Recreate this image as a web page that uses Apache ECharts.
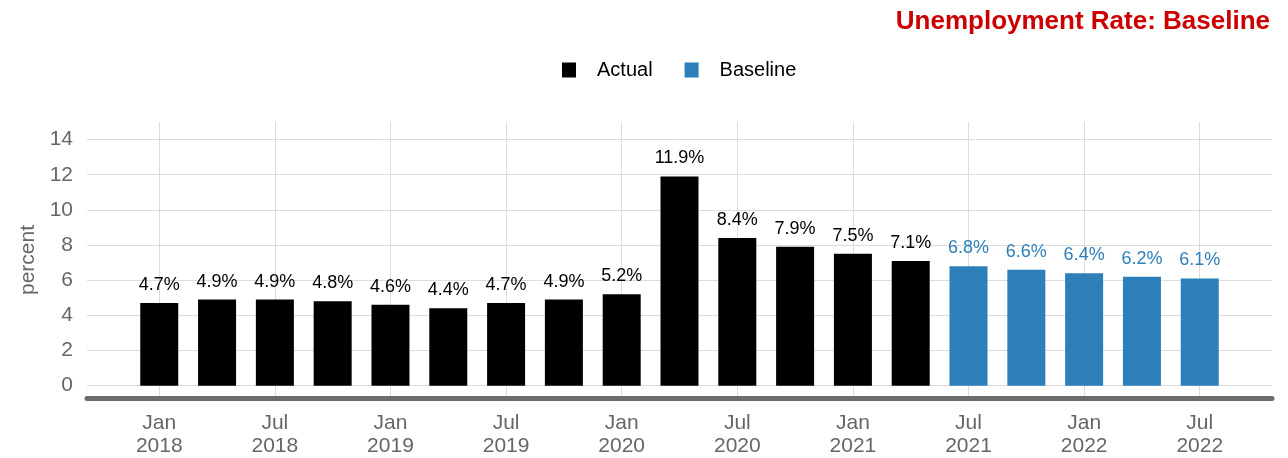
<!DOCTYPE html>
<html>
<head>
<meta charset="utf-8">
<script src="https://cdn.jsdelivr.net/npm/echarts@6/dist/echarts.min.js"></script>
<style>html,body{margin:0;padding:0;background:#fff;overflow:hidden}#c{width:1288px;height:458px}</style>
</head>
<body>
<div id="c"></div>
<script>
// Quarterly unemployment rate, Q1 2018 .. Q3 2022
var categories = ['2018Q1','2018Q2','2018Q3','2018Q4','2019Q1','2019Q2','2019Q3','2019Q4','2020Q1','2020Q2','2020Q3','2020Q4','2021Q1','2021Q2','2021Q3','2021Q4','2022Q1','2022Q2','2022Q3'];
var actualValues = [4.7, 4.9, 4.9, 4.8, 4.6, 4.4, 4.7, 4.9, 5.2, 11.9, 8.4, 7.9, 7.5, 7.1];
var baselineValues = [6.8, 6.6, 6.4, 6.2, 6.1];
var xTickLabels = ['Jan\n2018','Jul\n2018','Jan\n2019','Jul\n2019','Jan\n2020','Jul\n2020','Jan\n2021','Jul\n2021','Jan\n2022','Jul\n2022'];
var yTicks = [0, 2, 4, 6, 8, 10, 12, 14];

var xTickPos = xTickLabels.map(function (_, i) { return i * 2; });
var actualData = actualValues.map(function (v, i) { return [i, v]; });
var baselineData = baselineValues.map(function (v, i) { return [actualValues.length + i, v]; });
var FONT = 'Liberation Sans, Arial, sans-serif';

var chart = echarts.init(document.getElementById('c'));
chart.setOption({
  animation: false,
  title: {
    text: 'Unemployment Rate: Baseline',
    right: 18, top: 9, padding: 0,
    textStyle: { color: '#cc0000', fontSize: 26, fontWeight: 'bold', fontFamily: FONT }
  },
  legend: {
    left: 562, top: 60, padding: 0,
    itemWidth: 14, itemHeight: 15, itemGap: 32,
    icon: 'rect',
    textStyle: { fontSize: 20, color: '#000', fontFamily: FONT, padding: [0, 0, 0, 16] },
    data: ['Actual', 'Baseline']
  },
  grid: { left: 87, right: 16, top: 122, bottom: 52, containLabel: false },
  xAxis: {
    type: 'value',
    min: -1.25, max: categories.length - 1 + 1.25,
    axisLine: { show: true, onZero: false, lineStyle: { color: '#6b6b6b', width: 5 } },
    axisTick: { show: false, customValues: xTickPos },
    axisLabel: {
      customValues: xTickPos,
      formatter: function (v) { return xTickLabels[Math.round(v / 2)] || ''; },
      color: '#666', fontSize: 21, lineHeight: 23, margin: 14, fontFamily: FONT
    },
    splitLine: { show: true, lineStyle: { color: '#dcdcdc', width: 1 } }
  },
  yAxis: {
    type: 'value',
    min: -0.7, max: 15,
    name: 'percent', nameLocation: 'middle', nameGap: 48,
    nameTextStyle: { color: '#666', fontSize: 21, fontFamily: FONT },
    axisLine: { show: false },
    axisTick: { show: false, customValues: yTicks },
    axisLabel: { customValues: yTicks, color: '#666', fontSize: 21, margin: 14, fontFamily: FONT },
    splitLine: { show: true, lineStyle: { color: '#dcdcdc', width: 1 } }
  },
  series: [
    {
      name: 'Actual', type: 'bar', stack: 'all', barWidth: 38,
      itemStyle: { color: '#000000' },
      label: { show: true, position: 'top', distance: 9, color: '#000', fontSize: 18, fontFamily: FONT,
        formatter: function (p) { return p.value[1].toFixed(1) + '%'; } },
      data: actualData
    },
    {
      name: 'Baseline', type: 'bar', stack: 'all', barWidth: 38,
      itemStyle: { color: '#2c7fb8' },
      label: { show: true, position: 'top', distance: 9, color: '#2c7fb8', fontSize: 18, fontFamily: FONT,
        formatter: function (p) { return p.value[1].toFixed(1) + '%'; } },
      data: baselineData
    }
  ]
});
</script>
</body>
</html>
